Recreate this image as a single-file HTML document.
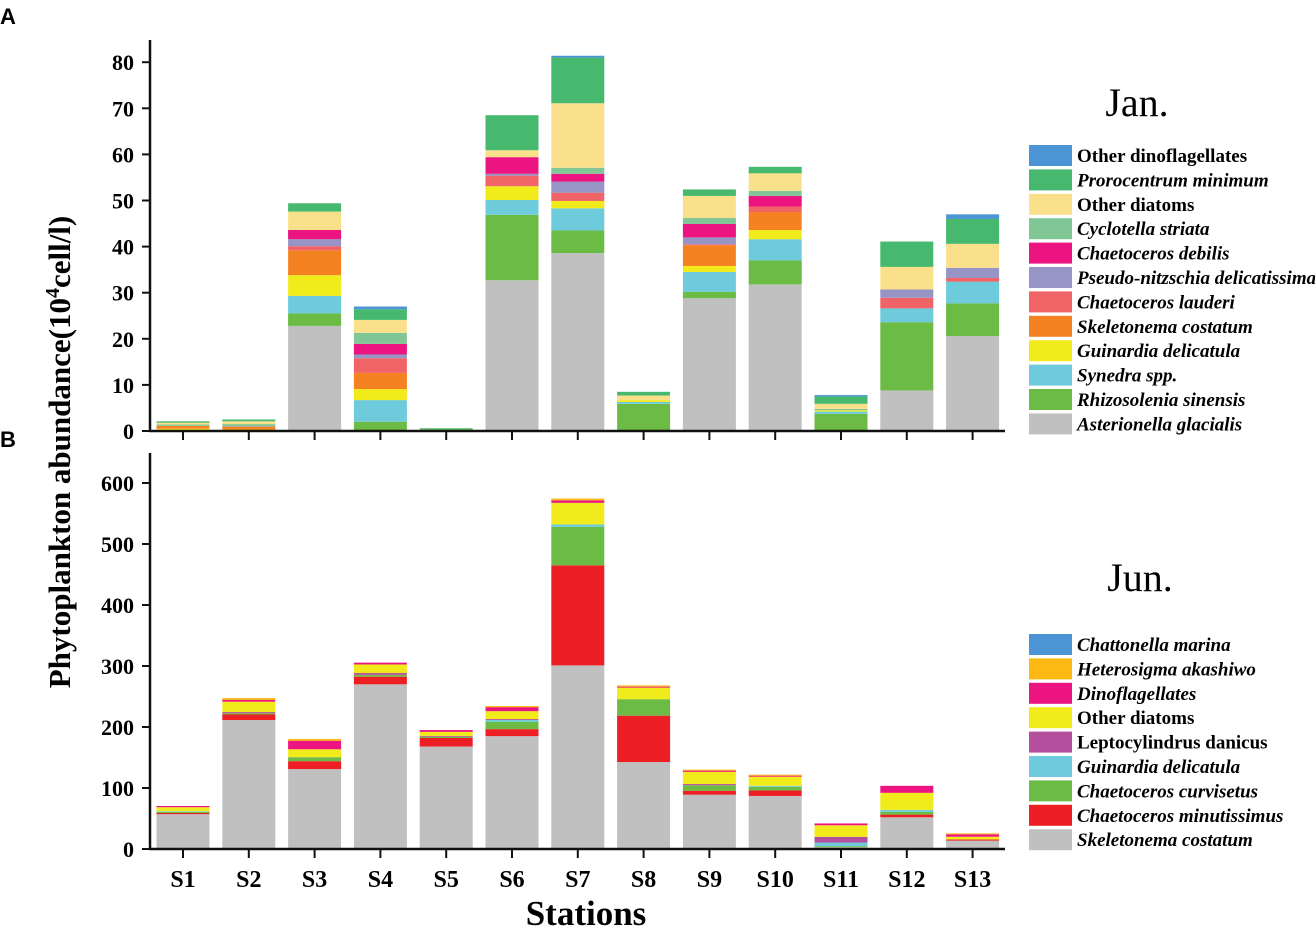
<!DOCTYPE html>
<html><head><meta charset="utf-8"><style>
body{margin:0;background:#fff;}
svg{display:block;font-family:"Liberation Serif",serif;}
</style></head><body>
<svg id="chart" width="1315" height="926"></svg>
<script>
const stations=["S1","S2","S3","S4","S5","S6","S7","S8","S9","S10","S11","S12","S13"];
// Panel A (Jan.) species, bottom to top
const janNames=["Asterionella glacialis","Rhizosolenia sinensis","Synedra spp.","Guinardia delicatula","Skeletonema costatum","Chaetoceros lauderi","Pseudo-nitzschia delicatissima","Chaetoceros debilis","Cyclotella striata","Other diatoms","Prorocentrum minimum","Other dinoflagellates"];
const janItalic=[1,1,1,1,1,1,1,1,1,0,1,0];
const janColors=["#c0c0c0","#6bbb44","#6dcbdb","#f2eb1c","#f58220","#f06468","#9794c6","#ec1480","#80c795","#fbe08c","#46b96e","#4b95d4"];
const janAsterionella=[0,0,22.8,0,0,32.7,38.6,0,28.8,31.8,0,8.8,20.6];
const janRhizosolenia=[0.2,0.1,2.7,2.0,0.4,14.2,4.9,5.9,1.4,5.2,3.7,14.8,7.1];
const janSynedra=[0,0,3.8,4.7,0,3.2,4.8,0.4,4.3,4.6,0.5,3.0,4.7];
const janGuinardia=[0.3,0.2,4.5,2.4,0,3.0,1.6,0.4,1.3,2.0,0.3,0,0];
const janSkeletonema=[0.6,0.6,5.4,3.5,0,0,0,0,4.5,3.9,0,0,0];
const janLauderi=[0,0.1,0.9,3.2,0,2.3,1.8,0,0.2,1.2,0,2.3,0.8];
const janPseudo=[0,0,1.5,0.8,0,0.4,2.4,0,1.5,0,0,1.8,2.2];
const janDebilis=[0,0,2.0,2.3,0,3.6,1.7,0,2.9,2.3,0,0,0];
const janCyclotella=[0.3,0.5,0,2.4,0,0,1.3,0,1.3,1.1,0.3,0,0];
const janOtherDiatoms=[0.4,0.6,4.0,2.8,0,1.5,14.0,1.0,4.8,3.8,1.1,4.9,5.2];
const janProrocentrum=[0.3,0.4,1.8,2.3,0.2,7.6,9.9,0.8,1.4,1.4,1.6,5.5,5.4];
const janOtherDino=[0,0,0,0.6,0,0,0.4,0,0,0,0.3,0,1.0];
const janSeries=[janAsterionella,janRhizosolenia,janSynedra,janGuinardia,janSkeletonema,janLauderi,janPseudo,janDebilis,janCyclotella,janOtherDiatoms,janProrocentrum,janOtherDino];
const janTicks=[0,10,20,30,40,50,60,70,80];
// Panel B (Jun.)
const junNames=["Skeletonema costatum","Chaetoceros minutissimus","Chaetoceros curvisetus","Guinardia delicatula","Leptocylindrus danicus","Other diatoms","Dinoflagellates","Heterosigma akashiwo","Chattonella marina"];
const junItalic=[1,1,1,1,0,0,1,1,1];
const junColors=["#c0c0c0","#ed1f24","#6bbb44","#6dcbdb","#b44f9e","#f2eb1c","#ec1480","#fdb913","#4b95d4"];
const junSkeletonema=[57,211.5,131,270,168,185,301,142.6,89,87,3,52,13.7];
const junMinutissimus=[2,9,13,12.5,14,11.5,164,76,6.5,9,0,4.4,2];
const junCurvisetus=[2,2,6.5,3,2,12,63,27,9,6,1.6,4.4,0];
const junGuinardia=[1,0,0,0,0,3,4,0,0,1.6,6,3.3,0];
const junLeptocylindrus=[0,2,0,3,1.5,1.5,0,0,2,0,9.3,0,0];
const junOtherDiatoms=[6.5,17,13,14,6.5,13,35.5,19,20,15,19,28,4.4];
const junDinoflagellates=[2,3,14,3,3,6.5,4,1.6,2,1.6,3,11.5,4];
const junHeterosigma=[0,3,3,0,0,2,3,2,1.6,1.6,0,0,1.6];
const junChattonella=[0,0,0,0,0,0,0,0,0,0,0,0,0];
const junSeries=[junSkeletonema,junMinutissimus,junCurvisetus,junGuinardia,junLeptocylindrus,junOtherDiatoms,junDinoflagellates,junHeterosigma,junChattonella];
const junTicks=[0,100,200,300,400,500,600];

const NS="http://www.w3.org/2000/svg";
const svg=document.getElementById('chart');
function mk(tag,attrs,parent){const e=document.createElementNS(NS,tag);for(const k in attrs)e.setAttribute(k,attrs[k]);(parent||svg).appendChild(e);return e;}
const xLeft=150, step=65.8, x0=183, barW=53;
function xPos(i){return x0+i*step;}

function panel(cfg){
  const g=mk('g',{});
  
  
  const y=v=>cfg.y0-v*cfg.scale;
  stations.forEach((s,i)=>{
    let cum=0;
    cfg.series.forEach((arr,k)=>{
      const v=arr[i]; if(v<=0) return;
      const r=mk('rect',{x:xPos(i)-barW/2,y:y(cum+v),width:barW,height:v*cfg.scale,fill:cfg.colors[k]},g);
      
      
      cum+=v;
    });
  });
  const ya=mk('line',{x1:xLeft,y1:cfg.top,x2:xLeft,y2:cfg.y0+1,stroke:'#111','stroke-width':2.5},g);
  
  
  const xa=mk('line',{x1:xLeft-1,y1:cfg.y0,x2:1005,y2:cfg.y0,stroke:'#111','stroke-width':2.5},g);
  
  
  cfg.ticks.forEach(t=>{
    mk('line',{x1:xLeft-8,y1:y(t),x2:xLeft,y2:y(t),stroke:'#111','stroke-width':2},g);
    const tx=mk('text',{x:xLeft-16,y:y(t)+8,'text-anchor':'end','font-size':22,'font-weight':'bold'},g);
    tx.textContent=t;
    
    
  });
  stations.forEach((s,i)=>{
    mk('line',{x1:xPos(i),y1:cfg.y0,x2:xPos(i),y2:cfg.y0+9,stroke:'#111','stroke-width':2},g);
  });
  const n=cfg.names.length;
  for(let j=0;j<n;j++){
    const k=n-1-j;
    const ly=cfg.legTop+j*24.4;
    const sw=mk('rect',{x:1029,y:ly,width:43,height:21,fill:cfg.colors[k]},g);
    
    
    const t=mk('text',{x:1077,y:ly+17,'font-size':19,'font-weight':'bold','font-style':cfg.italic[k]?'italic':'normal'},g);
    t.textContent=cfg.names[k];
    
    
  }
  const m=mk('text',{x:cfg.monthX,y:cfg.monthY,'text-anchor':'middle','font-size':40},g);
  m.textContent=cfg.month;
  
  
}
panel({name:'panel-a',y0:431,scale:4.61,top:40,series:janSeries,colors:janColors,names:janNames,italic:janItalic,ticks:janTicks,legTop:145,month:'Jan.',monthX:1137,monthY:116});
panel({name:'panel-b',y0:849,scale:0.61,top:453,series:junSeries,colors:junColors,names:junNames,italic:junItalic,ticks:junTicks,legTop:634,month:'Jun.',monthX:1140,monthY:591});

stations.forEach((s,i)=>{
  const t=mk('text',{x:xPos(i),y:887,'text-anchor':'middle','font-size':24,'font-weight':'bold'});
  t.textContent=s;
  
  
});
const xt=mk('text',{x:586,y:925,'text-anchor':'middle','font-size':35,'font-weight':'bold'});
xt.textContent='Stations';


const yt=mk('text',{x:0,y:0,'text-anchor':'middle','font-size':31,'font-weight':'bold',transform:'translate(70,452) rotate(-90)'});
yt.innerHTML='Phytoplankton abundance(10<tspan dy="-11" font-size="20">4</tspan><tspan dy="11">cell/l)</tspan>';


const la=mk('text',{x:0,y:24,'font-size':22,'font-weight':'bold','font-family':'Liberation Sans, sans-serif'});
la.textContent='A';


const lb=mk('text',{x:0,y:447,'font-size':22,'font-weight':'bold','font-family':'Liberation Sans, sans-serif'});
lb.textContent='B';


</script>
</body></html>
